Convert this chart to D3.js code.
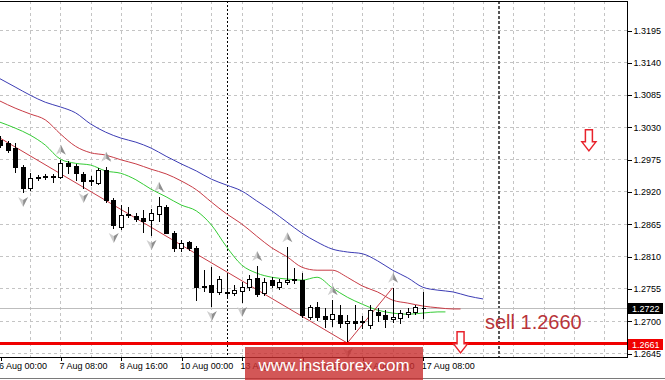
<!DOCTYPE html>
<html>
<head>
<meta charset="utf-8">
<script src="https://cdn.jsdelivr.net/npm/d3@7"></script>
<style>
html, body { margin: 0; padding: 0; background: #fff; }
svg { display: block; font-family: "Liberation Sans", Arial, sans-serif; }
</style>
</head>
<body>
<div id="chart"></div>
<script>
// H4 bars, 6 Aug 00:00 .. 17 Aug 08:00
var opens = [1.3008,1.3003,1.2994,1.2962,1.2926,1.2943,1.2945,1.2945,1.2945,1.2968,
    1.2963,1.2950,1.2938,1.2934,1.2957,1.2905,1.2860,1.2880,1.2878,1.2875,
    1.2871,1.2882,1.2894,1.2849,1.2824,1.2834,1.2824,1.2757,1.2761,1.2749,
    1.2749,1.2747,1.2751,1.2757,1.2773,1.2747,1.2769,1.2757,1.2766,1.2771,
    1.2769,1.2706,1.2723,1.2708,1.2703,1.2710,1.2696,1.2699,1.2699,1.2693,
    1.2715,1.2710,1.2703,1.2705,1.2711,1.2715,1.2722];
var highs = [1.3015,1.3006,1.3003,1.2965,1.2951,1.2948,1.2950,1.2950,1.2974,1.2972,
    1.2967,1.2953,1.2946,1.2960,1.2962,1.2909,1.2897,1.2894,1.2883,1.2888,
    1.2890,1.2911,1.2897,1.2853,1.2837,1.2836,1.2827,1.2786,1.2791,1.2776,
    1.2781,1.2761,1.2766,1.2778,1.2793,1.2773,1.2774,1.2771,1.2825,1.2790,
    1.2781,1.2727,1.2732,1.2722,1.2735,1.2727,1.2710,1.2727,1.2708,1.2727,
    1.2722,1.2718,1.2756,1.2718,1.2722,1.2727,1.2749];
var lows = [1.2996,1.2987,1.2953,1.2919,1.2923,1.2940,1.2941,1.2936,1.2943,1.2951,
    1.2940,1.2926,1.2931,1.2932,1.2902,1.2858,1.2856,1.2877,1.2870,1.2851,
    1.2846,1.2870,1.2849,1.2819,1.2819,1.2820,1.2735,1.2751,1.2725,1.2745,
    1.2739,1.2744,1.2732,1.2752,1.2742,1.2744,1.2757,1.2754,1.2762,1.2764,
    1.2706,1.2703,1.2701,1.2689,1.2691,1.2689,1.2662,1.2686,1.2688,1.2688,
    1.2699,1.2689,1.2698,1.2696,1.2706,1.2711,1.2705];
var closes = [1.2999,1.2991,1.2962,1.2926,1.2943,1.2945,1.2946,1.2946,1.2968,1.2963,
    1.2951,1.2938,1.2940,1.2957,1.2905,1.2863,1.2880,1.2882,1.2873,1.2870,
    1.2883,1.2895,1.2849,1.2824,1.2832,1.2824,1.2757,1.2759,1.2749,1.2771,
    1.2748,1.2752,1.2757,1.2771,1.2745,1.2766,1.2761,1.2766,1.2769,1.2769,
    1.2710,1.2723,1.2706,1.2703,1.2711,1.2696,1.2699,1.2696,1.2698,1.2718,
    1.2710,1.2703,1.2706,1.2713,1.2715,1.2723,1.2722];

// alligator lines, read every 2 bars (shifted forward past the last bar)
var jaw = [1.3112,1.3098,1.3084,1.3072,1.3064,1.3054,1.3035,1.3021,1.3011,1.3004,
    1.2994,1.2980,1.2967,1.2955,1.2941,1.2931,1.2921,1.2904,1.2887,1.2868,
    1.2849,1.2834,1.2822,1.2817,1.2814,1.2802,1.2786,1.2773,1.2757,1.2752,
    1.2749,1.2742,1.2737];
var teeth = [1.3074,1.3062,1.3052,1.3042,1.3018,1.2997,1.2986,1.2982,1.2974,1.2967,
    1.2958,1.2950,1.2938,1.2923,1.2902,1.2882,1.2865,1.2844,1.2824,1.2809,
    1.2791,1.2786,1.2786,1.2774,1.2759,1.2749,1.2735,1.2730,1.2725,1.2722,
    1.2720,1.2720];
var lips = [1.3038,1.3028,1.3016,1.2999,1.2975,1.2968,1.2965,1.2955,1.2951,1.2940,
    1.2924,1.2911,1.2897,1.2887,1.2863,1.2826,1.2795,1.2781,1.2774,1.2771,
    1.2769,1.2774,1.2756,1.2740,1.2728,1.2718,1.2713,1.2711,1.2713,1.2715,
    1.2715];
var jawBars = d3.range(0, 65, 2);
var teethBars = d3.range(0, 61, 2).concat([61]);
var lipsBars = d3.range(0, 59, 2).concat([59]);

var upFractals = [8, 14, 21, 34, 38, 44, 52];
var downFractals = [3, 11, 15, 20, 28, 32, 46];

var zigzagBars = [0, 46, 52];
var zigzagPrices = [1.3011, 1.2662, 1.2756];

var priceTicks = [1.2645,1.2700,1.2755,1.2810,1.2865,1.2920,1.2975,1.3030,1.3085,1.3140,1.3195];
var timeBars = [0, 8, 16, 24, 32, 40, 48, 56];
var timeLabels = ["6 Aug 00:00","7 Aug 08:00","8 Aug 16:00","10 Aug 00:00",
    "13 Aug 08:00","14 Aug 16:00","16 Aug 00:00","17 Aug 08:00"];

var separatorBars = [30, 66];
var sellLevel = 1.2661;
var sellText = "sell 1.2660";
var sellArrows = [[78, 1.3025], [61, 1.2681]];   // [bar, price at arrow top]

var W = 665, H = 380;
var plotR = 627, plotT = 1, plotB = 357;

var x = d3.scaleLinear().domain([0, 83]).range([0, 626.65]);
var y = d3.scaleLinear().domain([1.2645, 1.3195]).range([353, 30]);
var px = function(v) { return Math.round(v) + 0.5; };

var svg = d3.select("#chart").append("svg")
    .attr("width", W).attr("height", H);

svg.append("defs").append("clipPath").attr("id", "plot")
    .append("rect").attr("x", 0).attr("y", plotT).attr("width", plotR).attr("height", plotB - plotT);

var plot = svg.append("g").attr("clip-path", "url(#plot)");

// grid
plot.append("g").selectAll("line").data(priceTicks).enter().append("line")
    .attr("x1", 0).attr("x2", plotR)
    .attr("y1", function(d) { return px(y(d)); }).attr("y2", function(d) { return px(y(d)); })
    .attr("stroke", "#c4c4c4").attr("stroke-dasharray", "3,3").attr("shape-rendering", "crispEdges");
plot.append("g").selectAll("line").data(d3.range(4, 83, 4)).enter().append("line")
    .attr("x1", function(d) { return px(x(d)); }).attr("x2", function(d) { return px(x(d)); })
    .attr("y1", plotT).attr("y2", plotB)
    .attr("stroke", "#c4c4c4").attr("stroke-dasharray", "3,3").attr("shape-rendering", "crispEdges");

// separators
plot.append("g").selectAll("line").data(separatorBars).enter().append("line")
    .attr("x1", function(d) { return px(x(d)); }).attr("x2", function(d) { return px(x(d)); })
    .attr("y1", plotT).attr("y2", plotB)
    .attr("stroke", function(d, i) { return i ? "#555" : "#000"; })
    .attr("stroke-width", function(d, i) { return i ? 2 : 1; })
    .attr("stroke-dasharray", function(d, i) { return i ? "3,2" : "2,2"; })
    .attr("shape-rendering", "crispEdges");

// bid line
var last = closes[closes.length - 1];
plot.append("line").attr("x1", 0).attr("x2", plotR)
    .attr("y1", px(y(last))).attr("y2", px(y(last)))
    .attr("stroke", "#bdbdbd").attr("shape-rendering", "crispEdges");

// alligator
function maLine(bars, vals, color) {
    var line = d3.line()
        .x(function(d, i) { return x(bars[i]); })
        .y(function(d) { return y(d); })
        .curve(d3.curveMonotoneX);
    plot.append("path").datum(vals).attr("d", line)
        .attr("fill", "none").attr("stroke", color).attr("stroke-width", 1);
}
maLine(jawBars, jaw, "#3c3cb4");
maLine(teethBars, teeth, "#c83c46");
maLine(lipsBars, lips, "#35cc35");

// zigzag
plot.append("path").datum(zigzagPrices)
    .attr("d", d3.line().x(function(d, i) { return x(zigzagBars[i]); }).y(function(d) { return y(d); }))
    .attr("fill", "none").attr("stroke", "#c83c46").attr("stroke-width", 1);

// candles
var cg = plot.append("g");
opens.forEach(function(o, i) {
    var c = closes[i], cx = Math.round(x(i));
    cg.append("line")
        .attr("x1", cx + 0.5).attr("x2", cx + 0.5)
        .attr("y1", Math.round(y(highs[i]))).attr("y2", Math.round(y(lows[i])) + 1)
        .attr("stroke", "#000").attr("shape-rendering", "crispEdges");
    var top = px(y(Math.max(o, c))), bot = px(y(Math.min(o, c)));
    cg.append("path")
        .attr("d", "M" + (cx - 1.5) + "," + top + "H" + (cx + 2.5) + "V" + bot + "H" + (cx - 1.5) + "Z")
        .attr("fill", c > o ? "#fff" : "#000")
        .attr("stroke", "#000").attr("shape-rendering", "crispEdges");
});

// fractal arrows
function fractal(i, up) {
    var cx = x(i) + 0.5;
    var cy = up ? y(highs[i]) - 10 : y(lows[i]) + 10;
    var s = up ? 1 : -1;
    var g = plot.append("g").attr("transform", "translate(" + cx + "," + cy + ")");
    g.append("path").attr("d", "M0," + (-5 * s) + "L-5," + (5 * s) + "L0," + (2 * s) + "Z").attr("fill", "#cfcfcf");
    g.append("path").attr("d", "M0," + (-5 * s) + "L5," + (5 * s) + "L0," + (2 * s) + "Z").attr("fill", "#8f8f8f");
}
upFractals.forEach(function(i) { fractal(i, true); });
downFractals.forEach(function(i) { fractal(i, false); });

// sell level
plot.append("line").attr("x1", 0).attr("x2", plotR)
    .attr("y1", y(sellLevel)).attr("y2", y(sellLevel))
    .attr("stroke", "#f00000").attr("stroke-width", 3);

// sell arrows (hollow, pointing down)
sellArrows.forEach(function(a) {
    var cx = x(a[0]), t = y(a[1]);
    var d = "M" + (cx - 3.5) + "," + t + "H" + (cx + 3.5) + "V" + (t + 12) + "H" + (cx + 7) +
        "L" + cx + "," + (t + 21) + "L" + (cx - 7) + "," + (t + 12) + "H" + (cx - 3.5) + "Z";
    svg.append("path").attr("d", d).attr("fill", "#fff")
        .attr("stroke", "#e8232c").attr("stroke-width", 1.5).attr("stroke-linejoin", "miter");
});

svg.append("text").attr("x", 485).attr("y", 329)
    .attr("font-size", 20).attr("fill", "#b8343a").text(sellText);

// frame
svg.append("path")
    .attr("d", "M-1," + (plotT + 0.5) + "H" + (plotR + 0.5) + "V" + (plotB + 0.5) + "H-1")
    .attr("fill", "none").attr("stroke", "#000").attr("shape-rendering", "crispEdges");
svg.append("line").attr("x1", 0).attr("x2", W).attr("y1", 378.5).attr("y2", 378.5)
    .attr("stroke", "#7a7a7a").attr("shape-rendering", "crispEdges");

// price axis
var yAxis = d3.axisRight(y).tickValues(priceTicks).tickFormat(d3.format(".4f"))
    .tickSize(4).tickPadding(2);
var ya = svg.append("g").attr("transform", "translate(" + (plotR + 0.5) + ",0.5)").call(yAxis);
ya.select(".domain").remove();
ya.selectAll("text").attr("font-size", 9).attr("font-family", "Liberation Sans, Arial, sans-serif").attr("fill", "#000");
ya.selectAll("line").attr("stroke", "#000").attr("shape-rendering", "crispEdges");

// time axis
var xAxis = d3.axisBottom(x).tickValues(timeBars)
    .tickFormat(function(d, i) { return timeLabels[i]; })
    .tickSize(3).tickPadding(2);
var xa = svg.append("g").attr("transform", "translate(0.5," + (plotB + 0.5) + ")").call(xAxis);
xa.select(".domain").remove();
xa.selectAll("text").attr("font-size", 9).attr("font-family", "Liberation Sans, Arial, sans-serif")
    .attr("fill", "#000").attr("text-anchor", "start").attr("x", -2);
xa.selectAll("line").attr("stroke", "#000").attr("shape-rendering", "crispEdges");

// price boxes
function priceBox(v, bg) {
    var cy = Math.round(y(v));
    svg.append("rect").attr("x", 628).attr("y", cy - 5).attr("width", 35).attr("height", 11).attr("fill", bg);
    svg.append("text").attr("x", 632).attr("y", cy + 4).attr("font-size", 9)
        .attr("fill", "#fff").text(d3.format(".4f")(v));
}
priceBox(last, "#000");
priceBox(sellLevel, "#f00000");

// watermark
var wm = svg.append("g");
wm.append("rect").attr("x", 245).attr("y", 347).attr("width", 178).attr("height", 33)
    .attr("fill", "rgb(200,45,45)").attr("opacity", 0.8);
wm.append("text").attr("x", 334).attr("y", 371).attr("text-anchor", "middle")
    .attr("font-size", 17).attr("fill", "#fff").text("www.instaforex.com");
</script>
</body>
</html>
